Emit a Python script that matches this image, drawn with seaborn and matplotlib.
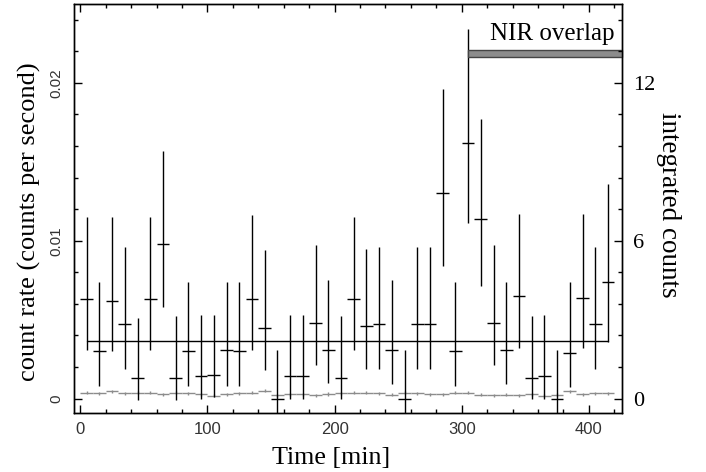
import numpy as np
import pandas as pd
import matplotlib
matplotlib.use("Agg")
import matplotlib.pyplot as plt
import seaborn as sns
from matplotlib.ticker import MultipleLocator, FixedLocator

# ---- data ----
time_min = [5 + 10 * i for i in range(42)]
rate = [0.0063, 0.0030, 0.0062, 0.0047, 0.0013, 0.0063, 0.0098, 0.0013, 0.0030, 0.0014,
        0.0015, 0.0031, 0.0030, 0.0063, 0.0045, 0.0000, 0.0014, 0.0014, 0.0048, 0.0031,
        0.0013, 0.0063, 0.0046, 0.0047, 0.0031, 0.0000, 0.0047, 0.0047, 0.0130, 0.0030,
        0.0162, 0.0114, 0.0048, 0.0031, 0.0065, 0.0013, 0.0014, 0.0000, 0.0029, 0.0064,
        0.0047, 0.0074]
rate_hi = [0.0115, 0.0074, 0.0115, 0.0096, 0.0051, 0.0115, 0.0157, 0.0052, 0.0074, 0.0053,
           0.0053, 0.0074, 0.0074, 0.0116, 0.0094, 0.0031, 0.0053, 0.0053, 0.0097, 0.0075,
           0.0052, 0.0115, 0.0095, 0.0096, 0.0075, 0.0031, 0.0096, 0.0096, 0.0196, 0.0074,
           0.0234, 0.0177, 0.0097, 0.0074, 0.0117, 0.0052, 0.0053, 0.0031, 0.0074, 0.0117,
           0.0096, 0.0136]
rate_lo = [0.0031, 0.0008, 0.0030, 0.0019, -0.0001, 0.0031, 0.0058, -0.0001, 0.0008, 0.0000,
           0.0001, 0.0008, 0.0008, 0.0031, 0.0018, -0.0020, 0.0000, 0.0000, 0.0021, 0.0010,
           0.0000, 0.0031, 0.0019, 0.0019, 0.0009, -0.0020, 0.0019, 0.0019, 0.0084, 0.0008,
           0.0111, 0.0071, 0.0021, 0.0009, 0.0032, 0.0000, 0.0000, -0.0020, 0.0007, 0.0032,
           0.0019, 0.0036]
bg_rate = [0.00038, 0.00032, 0.00046, 0.00032, 0.00038, 0.00038, 0.00027, 0.00036, 0.00032, 0.00027,
           0.00019, 0.00027, 0.00032, 0.00036, 0.00049, 0.00021, 0.00027, 0.00027, 0.00021, 0.00029,
           0.00032, 0.00038, 0.00038, 0.00032, 0.00025, 0.00038, 0.00032, 0.00027, 0.00027, 0.00036,
           0.00038, 0.00025, 0.00021, 0.00025, 0.00021, 0.00027, 0.00019, 0.00025, 0.00046, 0.00027,
           0.00032, 0.00032]
bg_err = 0.0001
mean_rate = 0.00363
mean_span = [5, 415]
nir_span = [305, 426]
nir_level = 0.02185
rate_ticks = [0, 0.01, 0.02]
rate_ticklabels = ["0", "0.01", "0.02"]
count_ticklabels = ["0", "6", "12"]

df = pd.DataFrame({"time": time_min, "rate": rate, "hi": rate_hi, "lo": rate_lo, "bg": bg_rate})

sns.set_theme(style="ticks")
plt.rcParams["font.family"] = ["Liberation Serif", "DejaVu Serif"]
plt.rcParams["text.color"] = "black"
plt.rcParams["axes.labelcolor"] = "black"

fig = plt.figure(figsize=(7.06, 4.72), dpi=100)
ax = fig.add_axes([0.1048, 0.1256, 0.7762, 0.8659])

# background (gray)
ax.errorbar(df["time"], df["bg"], xerr=5, yerr=bg_err, fmt="none",
            ecolor="#8c8c8c", elinewidth=1.0, capsize=0)
# source (black)
yerr = np.vstack([df["rate"] - df["lo"], df["hi"] - df["rate"]])
ax.errorbar(df["time"], df["rate"], xerr=5, yerr=yerr, fmt="none",
            ecolor="black", elinewidth=1.0, capsize=0)
# mean level
sns.lineplot(x=mean_span, y=[mean_rate, mean_rate], ax=ax, color="black", lw=1.0)
# NIR overlap bar
ax.barh(y=nir_level, width=nir_span[1] - nir_span[0], left=nir_span[0], height=0.00045,
        color="#8c8c8c", edgecolor="#444444", linewidth=1.0, zorder=3, clip_on=False)
ax.text(420, 0.0227, "NIR overlap", ha="right", va="baseline", fontsize=18,
        family=["Liberation Serif"], color="black")

ax.set_xlim(-5, 426)
ax.set_ylim(-0.0009, 0.0250)

sans = ["Liberation Sans", "DejaVu Sans"]
ax.xaxis.set_major_locator(MultipleLocator(100))
ax.xaxis.set_minor_locator(MultipleLocator(20))
ax.yaxis.set_major_locator(FixedLocator(rate_ticks))
ax.yaxis.set_minor_locator(MultipleLocator(0.002))
ax.set_yticklabels(rate_ticklabels, rotation=90, va="center", family=sans, fontsize=11, color="#333333")
for lab in ax.get_xticklabels():
    lab.set_family(sans)
    lab.set_fontsize(12)
    lab.set_color("#333333")
ax.tick_params(which="both", direction="in", top=True, bottom=True, left=True, right=False,
               color="black", width=1.0)
ax.tick_params(which="major", length=6)
ax.tick_params(which="minor", length=3)
ax.tick_params(axis="x", which="major", pad=7)
ax.tick_params(axis="y", which="major", pad=8)

ax.set_xlabel("Time [min]", fontsize=18.7)
ax.set_ylabel("count rate (counts per second)", fontsize=19)
ax.xaxis.label.set(ha="center", va="center")
ax.yaxis.label.set(ha="center", va="center", rotation_mode="default")
ax.xaxis.set_label_coords(0.470, -0.110)
ax.yaxis.set_label_coords(-0.082, 0.467)

for s in ax.spines.values():
    s.set_linewidth(1.0)
    s.set_color("black")

ax2 = ax.twinx()
ax2.set_ylim(ax.get_ylim())
ax2.yaxis.set_major_locator(FixedLocator(rate_ticks))
ax2.yaxis.set_minor_locator(MultipleLocator(0.002))
ax2.set_yticklabels(count_ticklabels, fontsize=16, color="black")
ax2.tick_params(which="both", direction="in", right=True, color="black", width=1.0)
ax2.tick_params(which="major", length=6, pad=8)
ax2.tick_params(which="minor", length=3)
ax2.set_ylabel("integrated counts", fontsize=19.5, rotation=270)
ax2.yaxis.label.set(ha="center", va="center", rotation_mode="default")
ax2.yaxis.set_label_coords(1.084, 0.5086)
for s in ax2.spines.values():
    s.set_linewidth(1.0)
    s.set_color("black")

fig.savefig("out.png", dpi=100)
